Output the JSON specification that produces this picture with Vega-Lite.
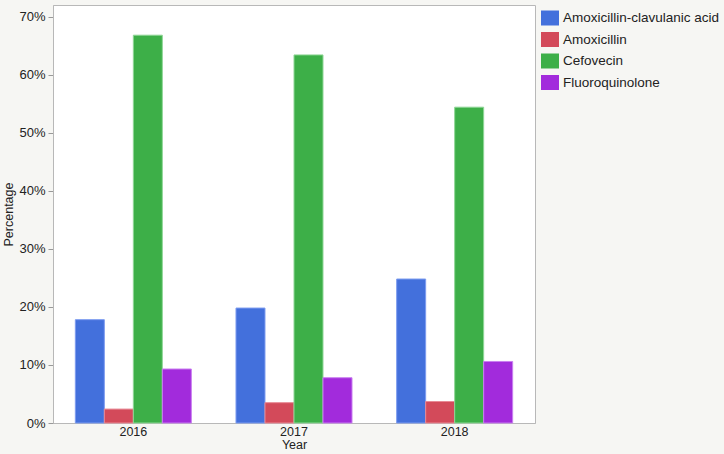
{
  "$schema": "https://vega.github.io/schema/vega-lite/v6.json",
  "autosize": {"type": "none"},
  "padding": {"left": 53, "top": 5, "right": 189, "bottom": 31},
  "width": 482,
  "height": 418,
  "background": "#f6f6f3",
  "config": {
    "view": {"stroke": "#b8b8b8", "strokeWidth": 1, "fill": "white"},
    "font": "Liberation Sans",
    "axis": {"labelFont": "Liberation Sans", "titleFont": "Liberation Sans", "labelColor": "#222", "titleColor": "#222", "titleFontWeight": "normal", "grid": false}
  },
  "data": {
    "values": [
      {"Year": "2016", "Drug": "Amoxicillin-clavulanic acid", "Percentage": 0.178},
      {"Year": "2016", "Drug": "Amoxicillin", "Percentage": 0.024},
      {"Year": "2016", "Drug": "Cefovecin", "Percentage": 0.668},
      {"Year": "2016", "Drug": "Fluoroquinolone", "Percentage": 0.093},
      {"Year": "2017", "Drug": "Amoxicillin-clavulanic acid", "Percentage": 0.198},
      {"Year": "2017", "Drug": "Amoxicillin", "Percentage": 0.035},
      {"Year": "2017", "Drug": "Cefovecin", "Percentage": 0.634},
      {"Year": "2017", "Drug": "Fluoroquinolone", "Percentage": 0.078},
      {"Year": "2018", "Drug": "Amoxicillin-clavulanic acid", "Percentage": 0.248},
      {"Year": "2018", "Drug": "Amoxicillin", "Percentage": 0.037},
      {"Year": "2018", "Drug": "Cefovecin", "Percentage": 0.544},
      {"Year": "2018", "Drug": "Fluoroquinolone", "Percentage": 0.106}
    ]
  },
  "mark": {"type": "bar", "strokeWidth": 1},
  "encoding": {
    "x": {
      "field": "Year", "type": "nominal",
      "scale": {"paddingInner": 0.278, "paddingOuter": 0.139},
      "axis": {"labelAngle": 0, "ticks": false, "domain": true, "domainColor": "#b8b8b8", "labelFontSize": 12.5, "labelPadding": 2, "titleFontSize": 12.5, "titlePadding": 1, "title": "Year"}
    },
    "xOffset": {"field": "Drug", "type": "nominal", "sort": ["Amoxicillin-clavulanic acid", "Amoxicillin", "Cefovecin", "Fluoroquinolone"], "scale": {"paddingInner": 0, "paddingOuter": 0}},
    "y": {
      "field": "Percentage", "type": "quantitative",
      "scale": {"domain": [0, 0.72], "nice": false},
      "axis": {"values": [0, 0.1, 0.2, 0.3, 0.4, 0.5, 0.6, 0.7], "format": ".0%", "tickSize": 5, "tickColor": "#999", "domainColor": "#b8b8b8", "labelFontSize": 13, "labelPadding": 3, "titleFontSize": 12.5, "titlePadding": 3, "title": "Percentage"}
    },
    "color": {
      "field": "Drug", "type": "nominal",
      "sort": ["Amoxicillin-clavulanic acid", "Amoxicillin", "Cefovecin", "Fluoroquinolone"],
      "scale": {"domain": ["Amoxicillin-clavulanic acid", "Amoxicillin", "Cefovecin", "Fluoroquinolone"], "range": ["#4370dc", "#d34a5a", "#3daf48", "#a22bdc"]},
      "legend": {
        "title": null, "orient": "none", "legendX": 488, "legendY": 4,
        "symbolType": "M-1,-0.833H1V0.833H-1Z", "symbolSize": 324, "symbolStrokeWidth": 0,
        "labelFontSize": 13.5, "labelColor": "#222", "labelFont": "Liberation Sans", "labelOffset": 4, "rowPadding": 4.5, "labelLimit": 300
      }
    },
    "stroke": {
      "field": "Drug", "type": "nominal",
      "scale": {"domain": ["Amoxicillin-clavulanic acid", "Amoxicillin", "Cefovecin", "Fluoroquinolone"], "range": ["#7d9cf0", "#e88a95", "#8fd696", "#c97ff0"]},
      "legend": null
    }
  }
}
